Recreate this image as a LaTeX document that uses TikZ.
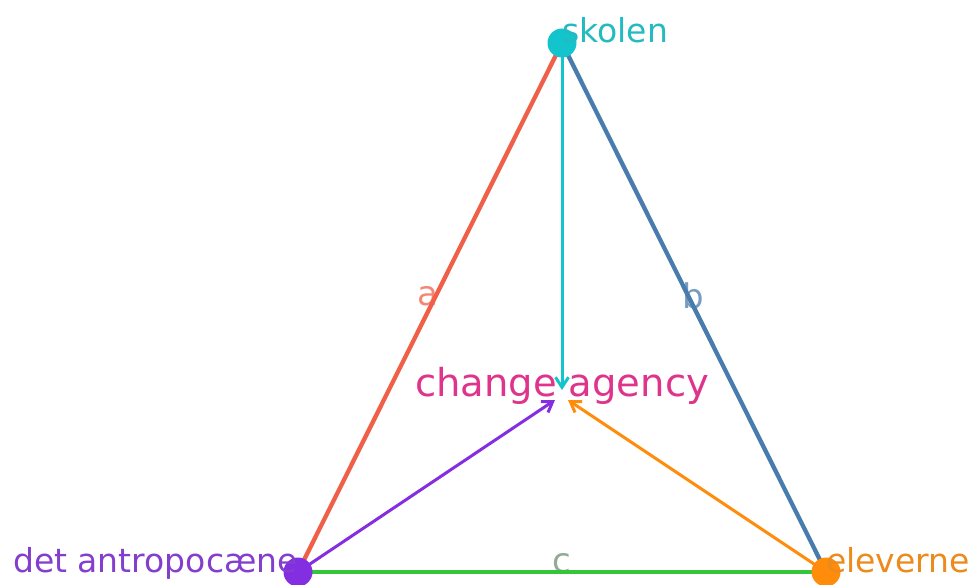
\documentclass[tikz,border=0pt]{standalone}
\usepackage{fontspec}
\setmainfont{DejaVu Sans}
\definecolor{edgea}{RGB}{240,96,72}
\definecolor{edgeb}{RGB}{72,124,172}
\definecolor{edgec}{RGB}{54,196,58}
\definecolor{skolcol}{RGB}{20,196,204}
\definecolor{antrocol}{RGB}{132,46,226}
\definecolor{elevcol}{RGB}{255,140,10}
\definecolor{agencol}{RGB}{222,52,140}
\usetikzlibrary{arrows.meta,positioning}
\tikzset{
  vertex/.style={circle, fill=#1, inner sep=0pt, minimum size=29pt},
  side/.style={draw=#1, line width=4.3pt},
  pull/.style={draw=#1, line width=3pt, -{Straight Barb[length=10pt,width=13pt]}},
  vlabel/.style={font=\fontsize{33}{38}\selectfont, inner sep=0pt},
  elabel/.style={font=\fontsize{34}{38}\selectfont, inner sep=0pt, text opacity=0.75}
}
\begin{document}
\begin{tikzpicture}[x=1pt,y=-1pt]
    \useasboundingbox (0,0) rectangle (972,585);
    % corners and centre
    \coordinate (skolen) at (562,43);
    \coordinate (antro) at (298,572);
    \coordinate (elever) at (826,572);
    \coordinate (tipTop) at (562,390);
    \coordinate (tipLeft) at (555,400);
    \coordinate (tipRight) at (568,400);
    % side labels, under the sides
    \node[elabel, text=edgea] (la) at (428,296) {a};
    \node[elabel, text=edgeb] (lb) at (693,296) {b};
    \node[elabel, text=gray!80!edgec] (lc) at (562,563) {c};
    % sides
    \draw[side=edgea] (antro) -- (skolen);
    \draw[side=edgeb] (skolen) -- (elever);
    \draw[side=edgec] (antro) -- (elever);
    % pulls towards change agency
    \draw[pull=skolcol] (skolen) -- (tipTop);
    \draw[pull=antrocol] (antro) -- (tipLeft);
    \draw[pull=elevcol] (elever) -- (tipRight);
    \node[vlabel, anchor=base, text=agencol, font=\fontsize{38.5}{44}\selectfont] (agency) at (562,396) {change agency};
    % corner dots and names
    \node[vertex=skolcol] (dotSkolen) at (skolen) {};
    \node[vertex=antrocol] (dotAntro) at (antro) {};
    \node[vertex=elevcol] (dotElever) at (elever) {};
    \node[vlabel, anchor=base west, text=skolcol!85!gray] (nameSkolen) at (skolen) {skolen};
    \node[vlabel, anchor=base east, text=antrocol!80!gray] (nameAntro) at (antro) {det antropocæne};
    \node[vlabel, anchor=base west, text=elevcol!85!gray] (nameElever) at (elever) {eleverne};
\end{tikzpicture}
\end{document}
